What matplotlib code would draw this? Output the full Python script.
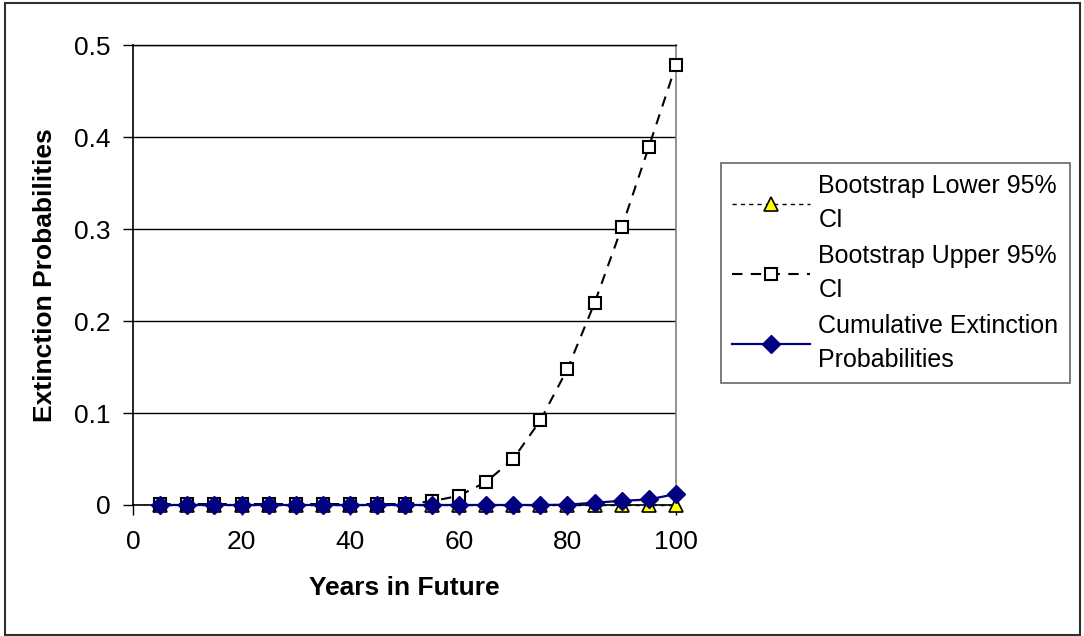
import matplotlib
matplotlib.use('Agg')
import matplotlib.pyplot as plt
from matplotlib.patches import Rectangle

plt.rcParams['font.family'] = ['Liberation Sans', 'DejaVu Sans']

# Data
years = [5, 10, 15, 20, 25, 30, 35, 40, 45, 50, 55, 60, 65, 70, 75, 80, 85, 90, 95, 100]
lower_ci = [0, 0, 0, 0, 0, 0, 0, 0, 0, 0, 0, 0, 0, 0, 0, 0, 0, 0, 0, 0]
upper_ci = [0.001, 0.001, 0.001, 0.001, 0.001, 0.001, 0.001, 0.001, 0.001, 0.001,
            0.004, 0.010, 0.025, 0.050, 0.092, 0.148, 0.220, 0.302, 0.390, 0.479]
cumulative = [0, 0, 0, 0, 0, 0, 0, 0, 0, 0,
              0, 0, 0, 0, 0, 0.0003, 0.0025, 0.0045, 0.006, 0.012]

labels = ['Bootstrap Lower 95%\nCI', 'Bootstrap Upper 95%\nCI',
          'Cumulative Extinction\nProbabilities']

fs = 19      # axis text
fs_leg = 18

fig = plt.figure(figsize=(10.84, 6.36), dpi=100)
ax = fig.add_axes([0.1227, 0.206, 0.501, 0.7225])

ax.plot(years, lower_ci, color='black', linestyle=(0, (3, 3)), linewidth=1,
        marker='^', markersize=10, markerfacecolor='#ffff00', markeredgecolor='black',
        markeredgewidth=1.2, label=labels[0], zorder=3, clip_on=False)
ax.plot(years, upper_ci, color='black', linestyle=(0, (5, 4)), linewidth=1.5,
        marker='s', markersize=9, markerfacecolor='white', markeredgecolor='black',
        markeredgewidth=1.5, label=labels[1], zorder=4, clip_on=False)
ax.plot(years, cumulative, color='#000080', linestyle='-', linewidth=1.6,
        marker='D', markersize=9.5, markerfacecolor='#000080', markeredgecolor='#000080',
        label=labels[2], zorder=5, clip_on=False)

ax.set_xlim(0, 100)
ax.set_ylim(0, 0.5)
ax.set_xticks([0, 20, 40, 60, 80, 100])
ax.set_yticks([0, 0.1, 0.2, 0.3, 0.4, 0.5])
ax.set_yticklabels(['0', '0.1', '0.2', '0.3', '0.4', '0.5'])
ax.yaxis.grid(True, color='black', linewidth=1)
ax.set_axisbelow(True)
ax.tick_params(axis='both', labelsize=fs, length=7, width=1, color='black', direction='out')
ax.tick_params(axis='y', pad=9)
ax.tick_params(axis='x', pad=11)

ax.spines['left'].set_linewidth(1.2)
ax.spines['bottom'].set_linewidth(1.2)
ax.spines['top'].set_linewidth(1)
ax.spines['right'].set_color('#808080')
ax.spines['right'].set_linewidth(1.2)

ax.set_xlabel('Years in Future', fontsize=fs, fontweight='bold', labelpad=16)
ax.set_ylabel('Extinction Probabilities', fontsize=fs, fontweight='bold', labelpad=12)

leg = fig.legend(loc='upper left', bbox_to_anchor=(0.665, 0.744), fontsize=fs_leg,
                 frameon=True, fancybox=False, shadow=False, borderaxespad=0,
                 handlelength=3.1, handletextpad=0.35, labelspacing=0.5,
                 borderpad=0.45)
leg.get_frame().set_edgecolor('#404040')
leg.get_frame().set_linewidth(1.2)
for t in leg.get_texts():
    t.set_linespacing(1.5)

fig.patches.append(Rectangle((0.005, 0.002), 0.991, 0.993, transform=fig.transFigure,
                             fill=False, edgecolor='#303030', linewidth=1.5))

fig.savefig('out.png', dpi=100)
